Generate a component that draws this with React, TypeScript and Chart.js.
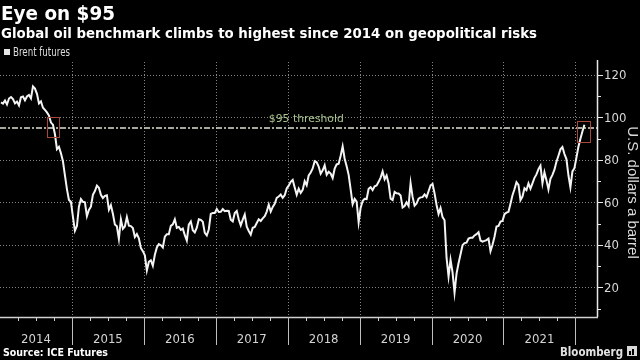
import React, { useEffect, useRef } from "react";
import { Chart, registerables } from "chart.js";

Chart.register(...registerables);

// ---------- data (three samples per month: early / mid / late) ----------
const sampleYears = [2014, 2015, 2016, 2017, 2018, 2019, 2020, 2021, 2022];

const brent2014 = [107.0, 106.4, 107.9, 106.0, 108.8, 109.5, 108.5, 106.5, 107.4, 105.6, 109.4, 109.8, 108.0, 109.8, 110.5, 108.9, 114.5, 113.5, 111.0, 106.5, 107.5, 104.5, 103.5, 102.3, 100.8, 97.5, 96.5, 92.0, 85.0, 86.1, 83.0, 79.3, 72.6, 66.2, 61.1, 60.2];
const brent2015 = [53.1, 46.6, 48.8, 57.9, 61.5, 60.2, 60.0, 53.5, 56.4, 57.9, 63.5, 65.3, 67.8, 66.8, 63.5, 62.0, 63.0, 63.3, 56.5, 58.6, 54.6, 49.5, 48.7, 42.7, 52.0, 47.5, 48.6, 53.0, 49.0, 48.8, 47.9, 43.6, 45.0, 43.0, 38.5, 37.0];
const brent2016 = [35.0, 27.9, 32.0, 32.7, 30.1, 35.3, 38.7, 40.3, 39.8, 38.7, 43.8, 45.0, 45.0, 48.9, 49.6, 52.0, 48.0, 48.4, 47.0, 47.6, 44.5, 42.0, 49.5, 50.9, 46.8, 45.8, 48.0, 52.0, 51.7, 50.8, 45.6, 44.4, 47.2, 54.5, 55.0, 55.0];
const brent2017 = [56.8, 55.4, 55.5, 56.8, 55.8, 56.0, 55.9, 51.8, 51.0, 54.9, 55.9, 51.9, 49.1, 51.8, 54.2, 48.5, 46.5, 44.8, 48.0, 48.4, 50.2, 52.0, 51.2, 52.4, 53.4, 55.6, 58.9, 55.6, 57.8, 59.3, 62.1, 62.7, 63.6, 62.1, 63.3, 66.5];
const brent2018 = [67.8, 69.6, 70.5, 66.9, 63.5, 66.4, 64.4, 65.8, 69.9, 68.0, 72.6, 74.0, 75.9, 79.3, 78.8, 76.8, 73.4, 75.0, 77.4, 72.9, 74.3, 73.5, 71.4, 75.8, 77.8, 78.1, 81.9, 86.3, 80.5, 76.9, 72.9, 66.1, 59.1, 61.6, 60.3, 50.5];
const brent2019 = [57.3, 60.6, 61.6, 61.5, 66.3, 67.1, 65.7, 67.5, 67.9, 69.6, 71.6, 74.5, 70.8, 72.6, 68.8, 61.7, 61.0, 64.9, 64.2, 64.1, 63.2, 57.5, 58.2, 60.0, 58.3, 69.0, 62.5, 58.4, 59.4, 61.7, 62.3, 62.4, 63.7, 62.4, 65.2, 67.9];
const brent2020 = [68.6, 64.2, 58.7, 54.5, 57.3, 53.0, 51.5, 33.9, 25.0, 32.9, 27.0, 17.5, 26.4, 31.3, 35.5, 39.8, 40.8, 41.0, 42.9, 43.3, 43.3, 44.4, 45.0, 45.9, 42.0, 41.5, 41.8, 42.2, 42.9, 37.0, 40.0, 43.8, 48.6, 48.9, 50.9, 51.2];
const brent2021 = [54.4, 55.1, 55.5, 59.3, 63.3, 66.1, 69.4, 68.2, 61.0, 62.7, 66.6, 65.7, 68.9, 66.4, 68.9, 71.5, 73.1, 75.6, 77.2, 69.0, 74.1, 70.4, 66.0, 71.0, 72.9, 75.3, 79.1, 81.9, 84.9, 86.0, 82.7, 80.3, 72.7, 67.0, 74.5, 76.0];
const brent2022 = [81.0, 86.1, 89.9, 93.3, 96.5];

const brentByYear = [brent2014, brent2015, brent2016, brent2017, brent2018, brent2019, brent2020, brent2021, brent2022];

const yearLabels = ["2014", "2015", "2016", "2017", "2018", "2019", "2020", "2021"];
const yTickValues = [20, 40, 60, 80, 100, 120];
const yMinorTickValues = [10, 30, 50, 70, 90, 110];
const thresholdValue = 95;
const thresholdLabel = "$95 threshold";
const thresholdLabelDate = "2017-09-27";
// highlight boxes: [start date, end date, low price, high price]
const highlightStarts = ["2014-08-27", "2022-01-11"];
const highlightEnds = ["2014-10-28", "2022-03-12"];
const highlightLows = [90.8, 88.5];
const highlightHighs = [100.2, 98.0];

const titleText = "Eye on $95";
const subtitleText = "Global oil benchmark climbs to highest since 2014 on geopolitical risks";
const legendText = "Brent futures";
const yAxisTitle = "U.S. dollars a barrel";
const sourceText = "Source: ICE Futures";
const brandText = "Bloomberg";

const NARROW = '"Liberation Sans Narrow", "DejaVu Sans Condensed", sans-serif';

function dateToYear(s: string): number {
  const [y, m, d] = s.split("-").map(Number);
  return y + (m - 1) / 12 + (d - 1) / 365;
}

const points = brentByYear.flatMap((vals, yi) =>
  vals.map((v, i) => ({ x: sampleYears[yi] + (i + 0.5) / 36, y: v }))
);

const decorPlugin = {
  id: "decor",
  beforeDraw(chart: any) {
    const { ctx, width, height } = chart;
    ctx.save();
    ctx.fillStyle = "#000";
    ctx.fillRect(0, 0, width, height);
    ctx.restore();
  },
  beforeDatasetsDraw(chart: any) {
    const { ctx, chartArea: a, scales } = chart;
    const x = scales.x;
    const y = scales.y;
    ctx.save();
    ctx.lineWidth = 1;
    ctx.strokeStyle = "rgba(165,165,165,0.8)";
    ctx.setLineDash([1, 2]);
    yTickValues.forEach((v) => {
      const py = Math.round(y.getPixelForValue(v)) + 0.5;
      ctx.beginPath();
      ctx.moveTo(a.left, py);
      ctx.lineTo(a.right, py);
      ctx.stroke();
    });
    yearLabels.forEach((lab) => {
      const yr = Number(lab) + 1;
      const px = Math.round(x.getPixelForValue(yr)) + 0.5;
      ctx.beginPath();
      ctx.moveTo(px, a.top);
      ctx.lineTo(px, a.bottom);
      ctx.stroke();
    });
    // threshold
    const ty = y.getPixelForValue(thresholdValue);
    ctx.setLineDash([6, 2, 2, 2]);
    ctx.strokeStyle = "#dde2cf";
    ctx.lineWidth = 1.5;
    ctx.beginPath();
    ctx.moveTo(a.left, ty);
    ctx.lineTo(a.right, ty);
    ctx.stroke();
    ctx.setLineDash([]);
    ctx.fillStyle = "#a9c48e";
    ctx.font = '11px "DejaVu Sans", sans-serif';
    ctx.textAlign = "left";
    ctx.textBaseline = "alphabetic";
    ctx.fillText(thresholdLabel, x.getPixelForValue(dateToYear(thresholdLabelDate)), ty - 6, 75);
    ctx.restore();
  },
  afterDatasetsDraw(chart: any) {
    const { ctx, chartArea: a, scales } = chart;
    const x = scales.x;
    const y = scales.y;
    ctx.save();
    ctx.setLineDash([]);

    // highlight boxes
    ctx.strokeStyle = "#a8483a";
    ctx.lineWidth = 1;
    highlightStarts.forEach((s, i) => {
      const x0 = Math.round(x.getPixelForValue(dateToYear(s))) + 0.5;
      const x1 = Math.round(x.getPixelForValue(dateToYear(highlightEnds[i]))) + 0.5;
      const y0 = Math.round(y.getPixelForValue(highlightHighs[i])) + 0.5;
      const y1 = Math.round(y.getPixelForValue(highlightLows[i])) + 0.5;
      ctx.strokeRect(x0, y0, x1 - x0, y1 - y0);
    });

    // right axis
    ctx.strokeStyle = "#e8e8e8";
    ctx.lineWidth = 1.5;
    ctx.beginPath();
    ctx.moveTo(a.right + 0.5, a.top - 2);
    ctx.lineTo(a.right + 0.5, a.bottom);
    ctx.stroke();
    ctx.lineWidth = 1;
    yTickValues.forEach((v) => {
      const py = Math.round(y.getPixelForValue(v)) + 0.5;
      ctx.beginPath();
      ctx.moveTo(a.right, py);
      ctx.lineTo(a.right + 6, py);
      ctx.stroke();
    });
    yMinorTickValues.forEach((v) => {
      const py = Math.round(y.getPixelForValue(v)) + 0.5;
      ctx.beginPath();
      ctx.moveTo(a.right, py);
      ctx.lineTo(a.right + 4, py);
      ctx.stroke();
    });
    ctx.fillStyle = "#d8d8d8";
    ctx.font = "13px " + NARROW;
    ctx.textAlign = "left";
    ctx.textBaseline = "middle";
    yTickValues.forEach((v) => {
      ctx.fillText(String(v), a.right + 7, y.getPixelForValue(v) + 1);
    });

    // y-axis title (rotated)
    ctx.save();
    ctx.translate(632, (a.top + a.bottom) / 2 + 3);
    ctx.rotate(Math.PI / 2);
    ctx.textAlign = "center";
    ctx.textBaseline = "middle";
    ctx.font = '15px "Liberation Sans", sans-serif';
    ctx.fillStyle = "#dcdcdc";
    ctx.fillText(yAxisTitle, 0, 0, 138);
    ctx.restore();

    // bottom axis
    ctx.strokeStyle = "#d0d0d0";
    ctx.lineWidth = 1.5;
    ctx.beginPath();
    ctx.moveTo(a.left, a.bottom + 0.5);
    ctx.lineTo(a.right + 1, a.bottom + 0.5);
    ctx.stroke();
    ctx.lineWidth = 1;
    yearLabels.forEach((lab) => {
      const yr = Number(lab);
      [0.25, 0.5, 0.75].forEach((q) => {
        const px = Math.round(x.getPixelForValue(yr + q)) + 0.5;
        ctx.beginPath();
        ctx.moveTo(px, a.bottom);
        ctx.lineTo(px, a.bottom + 4);
        ctx.stroke();
      });
      const sx = Math.round(x.getPixelForValue(yr + 1)) + 0.5;
      ctx.strokeStyle = "#bdbdbd";
      ctx.beginPath();
      ctx.moveTo(sx, a.bottom);
      ctx.lineTo(sx, a.bottom + 28);
      ctx.stroke();
      ctx.strokeStyle = "#d0d0d0";
    });
    ctx.fillStyle = "#d4d4d4";
    ctx.font = "13px " + NARROW;
    ctx.textAlign = "center";
    ctx.textBaseline = "alphabetic";
    yearLabels.forEach((lab) => {
      const yr = Number(lab);
      ctx.fillText(lab, x.getPixelForValue(yr + 0.5), a.bottom + 26);
    });

    // header
    ctx.textAlign = "left";
    ctx.fillStyle = "#ffffff";
    ctx.font = 'bold 20px "DejaVu Sans", sans-serif';
    ctx.fillText(titleText, 1, 20, 114);
    ctx.font = 'bold 14px "DejaVu Sans", sans-serif';
    ctx.fillText(subtitleText, 1, 38, 536);
    // legend
    ctx.fillStyle = "#e6e6e6";
    ctx.fillRect(4, 49, 6, 6);
    ctx.fillStyle = "#dddddd";
    ctx.font = "12px " + NARROW;
    ctx.fillText(legendText, 13, 56, 57);

    // footer
    ctx.fillStyle = "#ffffff";
    ctx.font = 'bold 10px "DejaVu Sans", sans-serif';
    ctx.fillText(sourceText, 3, 356, 105);
    ctx.fillStyle = "#e2e2e2";
    ctx.font = 'bold 12px "DejaVu Sans", sans-serif';
    ctx.fillText(brandText, 560, 356, 63);
    // brand icon
    ctx.fillStyle = "#d8d8d8";
    ctx.fillRect(627, 346, 10, 10);
    ctx.fillStyle = "#000";
    ctx.fillRect(629, 351, 2, 4);
    ctx.fillRect(632, 349, 2, 6);
    ctx.restore();
  },
};

export default function App() {
  const canvasRef = useRef<HTMLCanvasElement | null>(null);

  useEffect(() => {
    document.body.style.margin = "0";
    document.body.style.background = "#000";
    const canvas = canvasRef.current;
    if (!canvas) return;
    const chart = new Chart(canvas, {
      type: "line",
      data: {
        datasets: [
          {
            label: legendText,
            data: points,
            borderColor: "#f4f4f4",
            borderWidth: 2,
            pointRadius: 0,
            tension: 0,
            fill: false,
          },
        ],
      },
      options: {
        animation: false,
        responsive: false,
        devicePixelRatio: 1,
        layout: { padding: { top: 62, bottom: 43, left: 0, right: 0 } },
        scales: {
          x: { type: "linear", min: 2014, max: 2022.3, display: false },
          y: {
            position: "right",
            min: 6,
            max: 126,
            grid: { display: false, drawTicks: false },
            border: { display: false },
            ticks: { display: false },
            afterFit: (s: any) => {
              s.width = 43;
            },
          },
        },
        plugins: {
          legend: { display: false },
          tooltip: { enabled: false },
          title: { display: false },
        },
      },
      plugins: [decorPlugin],
    } as any);
    return () => chart.destroy();
  }, []);

  return (
    <div style={{ position: "fixed", left: 0, top: 0, width: 640, height: 360, background: "#000" }}>
      <canvas ref={canvasRef} width={640} height={360} style={{ display: "block", width: 640, height: 360 }} />
    </div>
  );
}
